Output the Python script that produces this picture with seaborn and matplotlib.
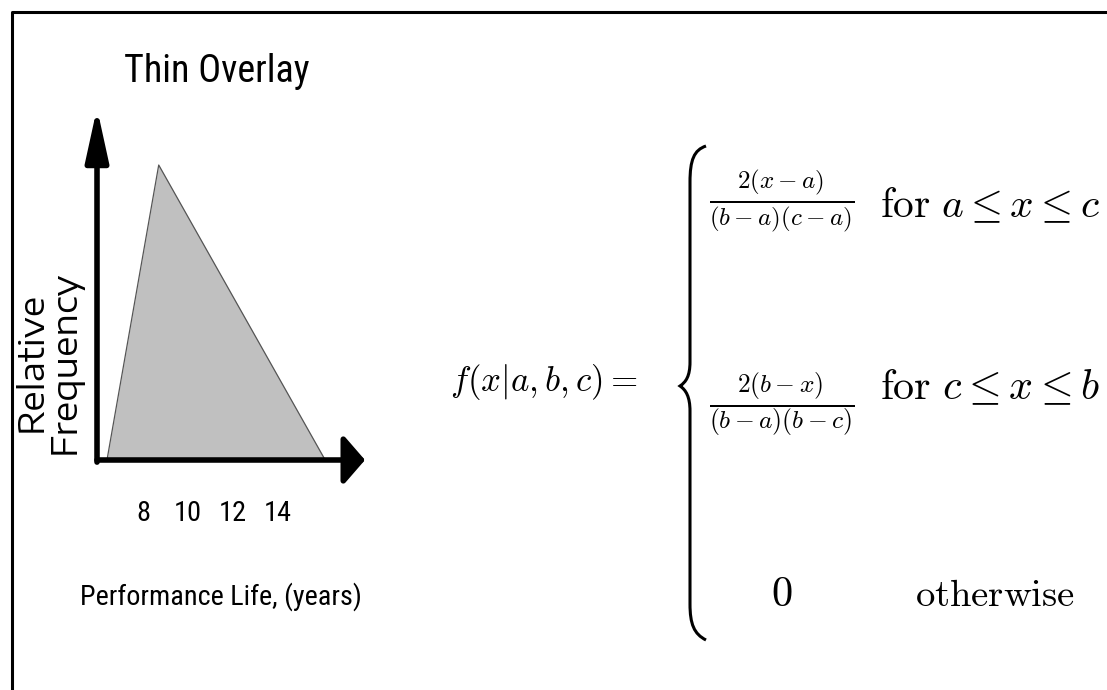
import matplotlib
matplotlib.use("Agg")
import matplotlib.pyplot as plt
from matplotlib import font_manager
from matplotlib.path import Path
from matplotlib.patches import PathPatch
import seaborn as sns

# Triangular distribution of performance life for a thin overlay
life_years = [6.4, 8.7, 16.1]        # a (min), c (mode), b (max)
rel_freq = [0.0, 0.21, 0.0]
tick_years = [8, 10, 12, 14]
tick_labels = ["8", "10", "12", "14"]

sns.set_theme(style="white")
plt.rcParams["mathtext.fontset"] = "cm"

installed = {f.name for f in font_manager.fontManager.ttflist}


def pick(*names):
    for n in names:
        if n in installed:
            return n
    return "Liberation Sans"


narrow = pick("Roboto Condensed", "Archivo Narrow", "PT Sans Narrow",
              "Encode Sans Condensed", "Liberation Sans Narrow",
              "Fira Sans Extra Condensed")
wide = pick("Encode Sans Expanded", "Encode Sans Semi Expanded", "Liberation Sans")
plt.rcParams["font.family"] = [narrow, "DejaVu Sans"]

W, H = 1107, 690
fig = plt.figure(figsize=(W / 100, H / 100), dpi=100)
fig.patch.set_facecolor("white")
renderer = fig.canvas.get_renderer()


def fit(text, target, along="width"):
    """Scale a text's font size so its extent matches a pixel length."""
    bb = text.get_window_extent(renderer)
    cur = bb.width if along == "width" else bb.height
    text.set_fontsize(text.get_fontsize() * target / cur)
    return text


# ---- overlay in pixel coordinates for labels, formula and frame ----
ov = fig.add_axes([0, 0, 1, 1], zorder=-1)
ov.set_xlim(0, W)
ov.set_ylim(H, 0)
ov.axis("off")

# tick label size from the width of a two-digit label
probe = ov.text(0, 0, "10", fontsize=20, family=[narrow, "DejaVu Sans"])
fit(probe, 28)
tick_fs = probe.get_fontsize()
probe.remove()

# ---- small distribution chart ----
ax = fig.add_axes([97 / W, 1 - 460 / H, 268 / W, 352 / H])
ax.fill_between(life_years, rel_freq, color="#c0c0c0", lw=0, zorder=1)
sns.lineplot(x=life_years, y=rel_freq, sort=False, color="#555555", lw=0.9, ax=ax, zorder=2)
ax.set_xlim(5.956, 17.87)
ax.set_ylim(0, 0.2506)
ax.set_xticks(tick_years)
ax.set_xticklabels(tick_labels, fontsize=tick_fs, family=[narrow, "DejaVu Sans"])
ax.set_yticks([])
ax.tick_params(axis="x", length=0, pad=29, colors="black")
for s in ax.spines.values():
    s.set_visible(False)
ax.patch.set_alpha(0)

# axis arrows
ax.annotate("", xy=(1.0, 0.0), xycoords="axes fraction", xytext=(0.0, 0.0),
            arrowprops=dict(arrowstyle="-|>,head_length=13,head_width=15",
                            mutation_scale=1, lw=4, color="black",
                            shrinkA=0, shrinkB=0), annotation_clip=False)
ax.annotate("", xy=(0.0, 1.0), xycoords="axes fraction", xytext=(0.0, -0.006),
            arrowprops=dict(arrowstyle="-|>,head_length=32,head_width=7",
                            mutation_scale=1, lw=4, color="black",
                            shrinkA=0, shrinkB=0), annotation_clip=False)

fit(ov.text(217, 72, "Thin Overlay", ha="center", va="center", fontsize=30,
            family=[narrow, "DejaVu Sans"], color="black"), 185)
fit(ov.text(221, 597, "Performance Life, (years)", ha="center", va="center",
            fontsize=24, family=[narrow, "DejaVu Sans"], color="black"), 282)
ov.text(48, 362, "Relative\nFrequency", ha="center", va="center", rotation=90,
        multialignment="center", linespacing=0.9, fontsize=25,
        family=[wide, "DejaVu Sans"], color="black")

# frame
ov.plot([12, 12, W], [H, 12, 12], color="black", lw=2.2, solid_capstyle="butt")

# piecewise density formula
fit(ov.text(637, 382, r"$f(x|a,b,c)=$", ha="right", va="center", fontsize=28,
            color="black"), 187)

brace = Path(
    [(706, 146), (694, 150), (690, 160), (690, 182),
     (690, 362),
     (690, 376), (686, 382), (680, 386),
     (686, 390), (690, 397), (690, 411),
     (690, 604),
     (690, 624), (694, 634), (706, 640)],
    [Path.MOVETO, Path.CURVE4, Path.CURVE4, Path.CURVE4,
     Path.LINETO,
     Path.CURVE4, Path.CURVE4, Path.CURVE4,
     Path.CURVE4, Path.CURVE4, Path.CURVE4,
     Path.LINETO,
     Path.CURVE4, Path.CURVE4, Path.CURVE4])
ov.add_patch(PathPatch(brace, fill=False, lw=2.2, color="black"))

fit(ov.text(782, 202, r"$\frac{2(x-a)}{(b-a)(c-a)}$", ha="center", va="center",
            fontsize=28, color="black"), 145)
fit(ov.text(782, 405, r"$\frac{2(b-x)}{(b-a)(b-c)}$", ha="center", va="center",
            fontsize=28, color="black"), 145)

fit(ov.text(880, 205, r"$\mathrm{for}\ a \leq x \leq c$", ha="left", va="center",
            fontsize=28, color="black"), 220)
fit(ov.text(880, 388, r"$\mathrm{for}\ c \leq x \leq b$", ha="left", va="center",
            fontsize=28, color="black"), 220)
other = fit(ov.text(995, 595, r"$\mathrm{otherwise}$", ha="center", va="center",
                    fontsize=28, color="black"), 160)
ov.text(782, 595, r"$0$", ha="center", va="center", fontsize=other.get_fontsize() * 1.1,
        color="black")

fig.savefig("out.png", dpi=100, facecolor="white")
